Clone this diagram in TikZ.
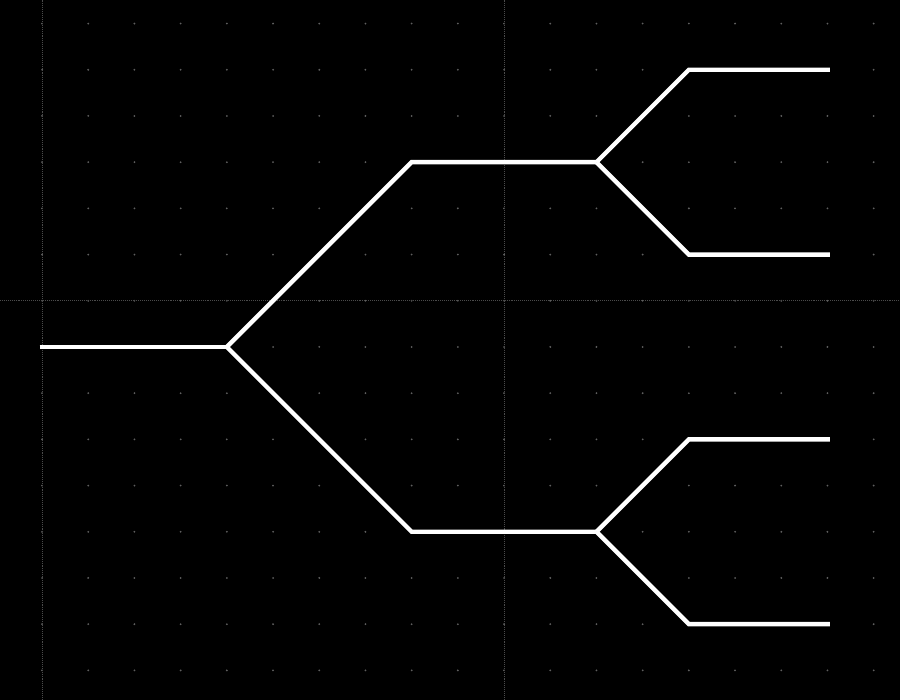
\documentclass[tikz,border=0pt]{standalone}
\usepackage{xcolor}
\usepackage{tikz}
\usetikzlibrary{positioning,calc}
\definecolor{griddot}{RGB}{95,95,95}
\definecolor{gridline}{RGB}{75,75,75}

\begin{document}
\begin{tikzpicture}[
    wire/.style={draw=white, line width=2.7pt, line join=miter},
    axisline/.style={draw=gridline, line width=0.5pt, dash pattern=on 0.6pt off 0.6pt}
]
    % Background
    \fill[black] (-0.91,-7.64) rectangle (18.57,7.51);
    \useasboundingbox (-0.91,-7.64) rectangle (18.57,7.51);
    % Grid dots
    \foreach \x in {0,...,18} {
        \foreach \y in {-7,...,7} {
            \fill[griddot] (\x,\y) circle (0.022);
        }
    }
    % Axis lines
    \draw[axisline] (0,-7.64) -- (0,7.51);
    \draw[axisline] (10,-7.64) -- (10,7.51);
    \draw[axisline] (-0.91,1) -- (18.57,1);
    % Tree points
    \coordinate (root) at (-0.05,0);
    \coordinate (split) at (4,0);
    \coordinate (upbend) at (8,4);
    \coordinate (upsplit) at (12,4);
    \coordinate (lobend) at (8,-4);
    \coordinate (losplit) at (12,-4);
    \coordinate (uubend) at (14,6);  \coordinate (uuend) at (17.05,6);
    \coordinate (ulbend) at (14,2);  \coordinate (ulend) at (17.05,2);
    \coordinate (lubend) at (14,-2); \coordinate (luend) at (17.05,-2);
    \coordinate (llbend) at (14,-6); \coordinate (llend) at (17.05,-6);
    % Branches
    \draw[wire] (root) -- (split);
    \draw[wire] (split) -- (upbend) -- (upsplit);
    \draw[wire] (split) -- (lobend) -- (losplit);
    \draw[wire] (upsplit) -- (uubend) -- (uuend);
    \draw[wire] (upsplit) -- (ulbend) -- (ulend);
    \draw[wire] (losplit) -- (lubend) -- (luend);
    \draw[wire] (losplit) -- (llbend) -- (llend);
\end{tikzpicture}
\end{document}
